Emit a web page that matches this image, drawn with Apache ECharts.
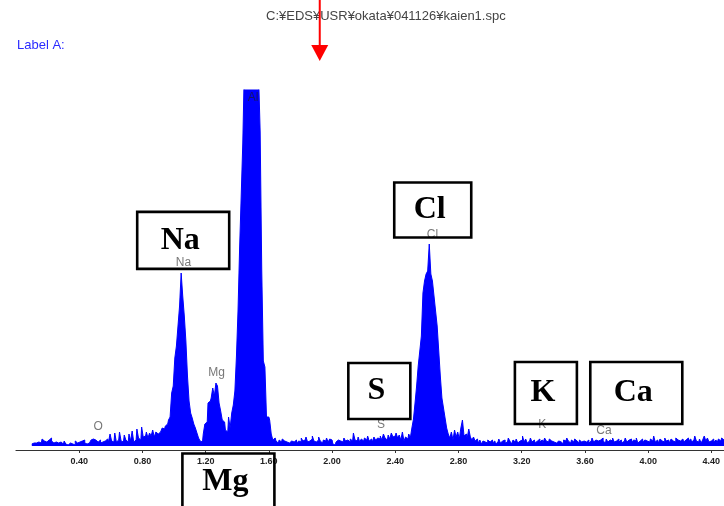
<!DOCTYPE html>
<html>
<head>
<meta charset="utf-8">
<script src="https://cdn.jsdelivr.net/npm/echarts@6/dist/echarts.min.js"></script>
<style>
html,body{margin:0;padding:0;background:#fff;}
#chart{width:724px;height:506px;}
</style>
</head>
<body>
<div id="chart"></div>
<script>
// ---- DATA ----
const fileName = 'C:¥EDS¥USR¥okata¥041126¥kaien1.spc';
const labelText = 'Label A:';
// spectrum: first channel energy (keV) and channel width (keV)
const startEnergy = 0.10;
const channelWidth = 0.01;
// counts per channel, 0.10 keV .. 4.48 keV (one row = 0.1 keV)
const counts = [
  6,9,15,9,12,18,9,21,15,12,          // 0.10
  9,18,24,15,9,12,6,9,12,6,           // 0.20
  6,15,6,3,9,12,6,3,15,9,             // 0.30
  12,6,15,18,9,6,9,15,18,21,          // 0.40
  18,15,12,18,9,12,15,9,21,12,        // 0.50
  36,15,12,39,12,18,42,15,12,33,      // 0.60
  18,12,36,15,45,12,18,51,24,18,      // 0.70
  57,27,30,42,24,39,30,48,27,42,      // 0.80
  36,42,48,54,51,60,66,78,87,159,     // 0.90
  180,264,300,360,420,519,450,390,315,210, // 1.00
  135,99,84,66,54,39,24,15,12,36,     // 1.10
  66,72,129,135,144,174,150,189,180,129, // 1.20
  105,78,72,48,42,87,54,99,123,165,   // 1.30
  270,408,594,750,909,1140,1290,1410,1470,1500, // 1.40
  1480,1420,1330,1220,1110,942,528,255,237,87,  // 1.50
  87,78,36,18,24,15,9,18,12,21,       // 1.60
  15,12,18,9,15,21,12,18,9,15,        // 1.70
  12,24,15,18,27,12,15,21,30,15,      // 1.80
  12,18,27,15,9,18,15,24,12,21,       // 1.90
  18,6,3,12,18,15,21,12,24,15,        // 2.00
  18,12,21,15,39,18,15,27,12,21,      // 2.10
  15,24,18,30,15,21,12,27,18,24,      // 2.20
  21,30,18,36,24,18,33,21,39,27,      // 2.30
  30,39,24,33,18,42,15,27,21,36,      // 2.40
  24,54,81,129,180,240,285,330,459,495, // 2.50
  516,525,606,516,495,450,405,360,285,210, // 2.60
  144,114,84,54,36,24,42,18,48,27,    // 2.70
  42,21,54,78,30,36,24,51,27,18,      // 2.80
  27,15,21,9,18,6,15,12,9,18,         // 2.90
  12,18,9,15,6,12,21,9,15,18,         // 3.00
  9,12,24,15,6,18,12,21,9,15,         // 3.10
  18,30,12,21,9,15,24,12,18,9,        // 3.20
  15,21,12,18,9,24,15,12,21,15,       // 3.30
  12,18,9,15,21,12,6,18,15,24,        // 3.40
  15,9,18,12,21,15,9,18,12,15,        // 3.50
  21,12,18,9,15,24,12,18,15,9,        // 3.60
  18,24,15,9,21,12,18,15,24,12,       // 3.70
  15,21,12,18,9,15,24,12,18,21,       // 3.80
  12,18,15,24,9,15,21,12,18,15,       // 3.90
  18,12,21,15,30,12,18,9,21,15,       // 4.00
  12,24,15,18,9,21,15,12,24,18,       // 4.10
  15,9,21,12,18,24,15,21,12,18,       // 4.20
  30,15,12,21,9,18,30,15,24,12,       // 4.30
  15,21,12,18,9,21,15,24,18           // 4.40
];
// axis
const xMin = 0, xMax = 4.48, xInterval = 0.4;
const yMin = 0, yMax = 1068;
// small peak labels (energy keV, label height in counts)
const peakNames  = ['O','Na','Mg','Al','S','Cl','K','Ca'];
const peakEnergy = [0.52, 1.06, 1.27, 1.50, 2.31, 2.635, 3.33, 3.72];
const peakLabelY = [57, 549, 219, 1044, 63, 633, 63, 45];
// boxed element annotations (centre energy keV, centre in counts)
const boxNames  = ['Na','Mg','S','Cl','K','Ca'];
const boxEnergy = [1.058, 1.344, 2.299, 2.637, 3.353, 3.925];
const boxCounts = [617, -108, 165, 708, 159, 159];
// arrow marker energy
const arrowEnergy = 1.922;

// ---- STYLE ----
const boxW = [92, 92, 62, 77, 62, 92];
const boxH = [57, 57, 56, 55, 62, 62];
const BLUE = '#0000ff';

const energies = counts.map((_, i) => Math.round((startEnergy + i * channelWidth) * 1000) / 1000);
const spectrum = energies.map((e, i) => [e, counts[i]]);
const peakData = peakNames.map((n, i) => {
  const item = { name: n, value: [peakEnergy[i], peakLabelY[i]] };
  if (n === 'Al') item.label = { color: '#1a1a40' };
  return item;
});

const chart = echarts.init(document.getElementById('chart'), null, { renderer: 'canvas' });
const option = {
  animation: false,
  backgroundColor: '#fff',
  title: {
    text: fileName,
    left: 261, top: 5,
    textStyle: { fontSize: 13, fontWeight: 'normal', color: '#444', fontFamily: 'Liberation Sans, Arial, sans-serif' }
  },
  grid: { left: 16, right: 0, top: 90, bottom: 60, containLabel: false },
  xAxis: {
    type: 'value', min: xMin, max: xMax, interval: xInterval, offset: 4,
    axisLine: { onZero: false, lineStyle: { color: '#333', width: 1.2 } },
    axisTick: { length: 3, lineStyle: { color: '#333' } },
    axisLabel: {
      showMinLabel: false, showMaxLabel: false, margin: 7,
      formatter: v => v.toFixed(2), fontSize: 9, fontWeight: 'bold', color: '#222',
      fontFamily: 'Liberation Sans, Arial, sans-serif'
    },
    splitLine: { show: false }
  },
  yAxis: { type: 'value', min: yMin, max: yMax, show: false, splitLine: { show: false } },
  series: [
    {
      type: 'line', data: spectrum, step: 'middle', symbol: 'none', clip: true,
      lineStyle: { color: BLUE, width: 1 },
      areaStyle: { color: BLUE, opacity: 1 },
      z: 2
    },
    {
      type: 'scatter', data: peakData, symbol: 'circle', symbolSize: 1,
      itemStyle: { color: 'rgba(0,0,0,0)' },
      label: {
        show: true, position: 'inside', formatter: p => p.name,
        fontSize: 12, color: '#555', fontFamily: 'Liberation Sans, Arial, sans-serif'
      },
      z: 4
    }
  ]
};
chart.setOption(option);

const toPx = (e, c) => chart.convertToPixel({ gridIndex: 0 }, [e, c]);
const graphics = [];
graphics.push({
  type: 'text', left: 17, top: 39, z: 100,
  style: { text: labelText, fill: '#2a2aff', font: '13px Liberation Sans, Arial, sans-serif' }
});
const ax = toPx(arrowEnergy, 0)[0];
graphics.push({ type: 'line', z: 100, shape: { x1: ax, y1: 0, x2: ax, y2: 47 }, style: { stroke: '#ff0000', lineWidth: 2 } });
graphics.push({ type: 'polygon', z: 100, shape: { points: [[ax - 8.5, 45], [ax + 8.5, 45], [ax, 61]] }, style: { fill: '#ff0000' } });
boxNames.forEach((n, i) => {
  const p = toPx(boxEnergy[i], boxCounts[i]);
  graphics.push({
    type: 'rect', z: 100,
    shape: { x: p[0] - boxW[i] / 2, y: p[1] - boxH[i] / 2, width: boxW[i], height: boxH[i] },
    style: { fill: 'none', stroke: '#000', lineWidth: 2.6 }
  });
  graphics.push({
    type: 'text', z: 101, x: p[0] - 3, y: p[1],
    style: { text: n, textAlign: 'center', textVerticalAlign: 'middle', fill: '#000',
      font: 'bold 32px Liberation Serif, Times New Roman, serif' }
  });
});
chart.setOption({ graphic: graphics });
</script>
</body>
</html>
